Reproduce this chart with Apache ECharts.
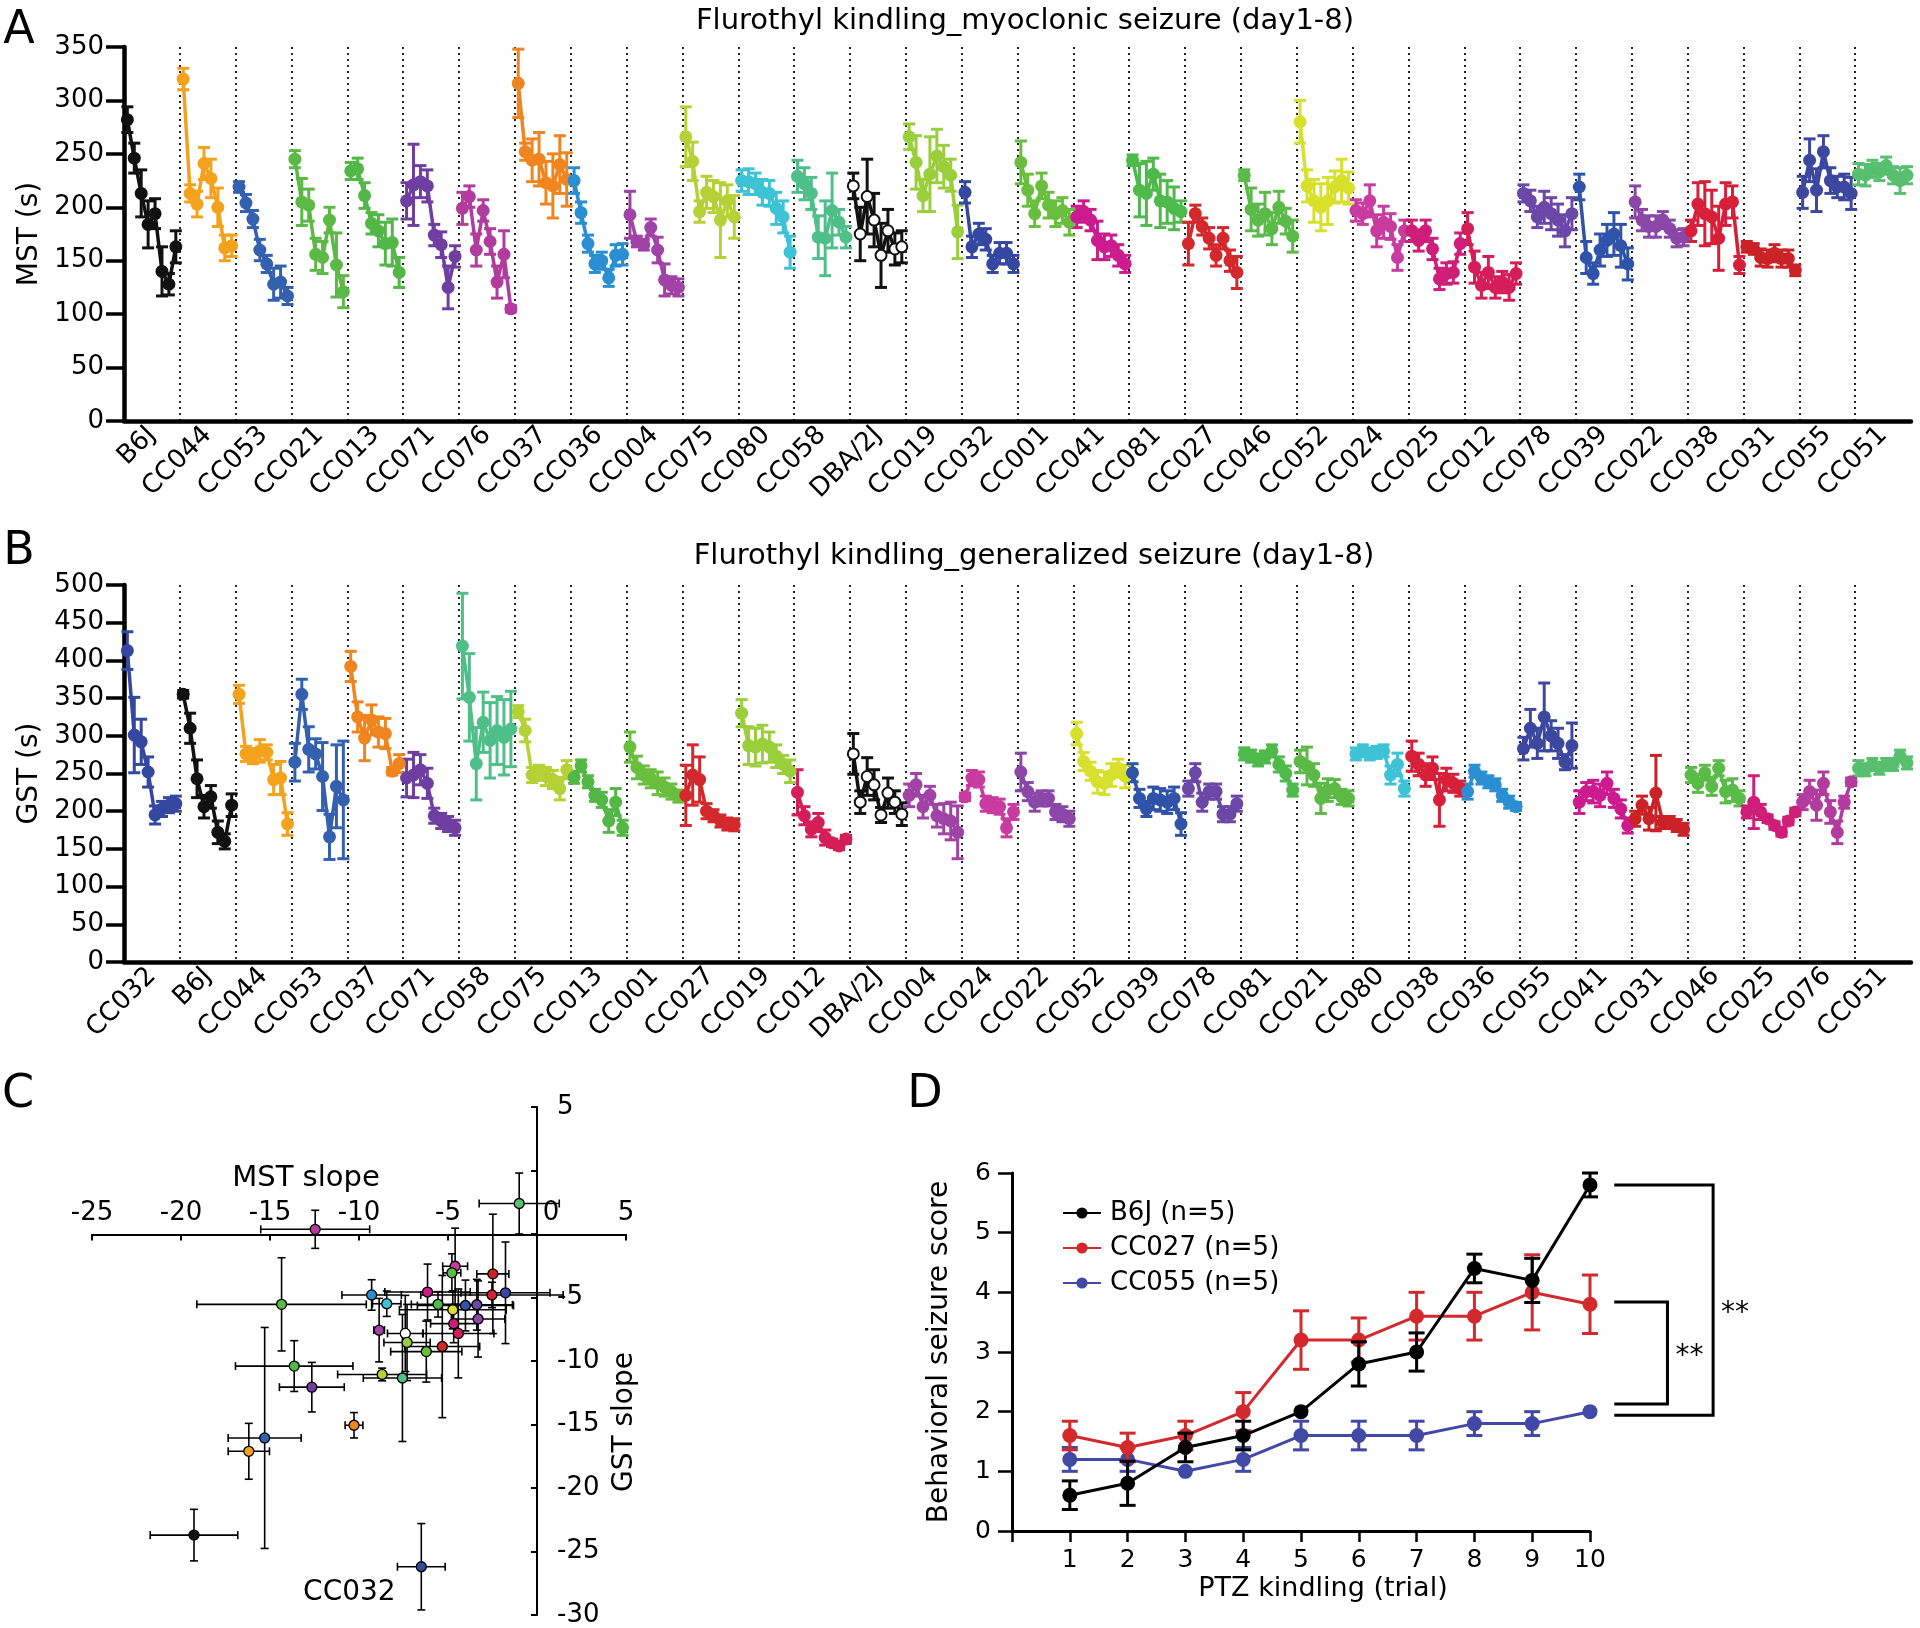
<!DOCTYPE html>
<html>
<head>
<meta charset="utf-8">
<script src="https://cdn.jsdelivr.net/npm/echarts@6/dist/echarts.min.js"></script>
<style>
  html, body { margin: 0; padding: 0; background: #fff; }
  #chart { width: 1920px; height: 1628px; }
</style>
</head>
<body>
<div id="chart"></div>
<script>
// ---- panel A: myoclonic seizure threshold, day 1-8 (mean / sem) ----
const strainsA = ['B6J', 'CC044', 'CC053', 'CC021', 'CC013', 'CC071', 'CC076', 'CC037', 'CC036', 'CC004',
  'CC075', 'CC080', 'CC058', 'DBA/2J', 'CC019', 'CC032', 'CC001', 'CC041', 'CC081', 'CC027', 'CC046',
  'CC052', 'CC024', 'CC025', 'CC012', 'CC078', 'CC039', 'CC022', 'CC038', 'CC031', 'CC055', 'CC051'];
const mstMean = [
  [282, 246, 213, 184, 194, 140, 128, 163], [320, 213, 203, 241, 227, 200, 162, 164],
  [219, 204, 189, 160, 147, 128, 130, 117], [245, 205, 202, 156, 153, 188, 146, 121],
  [234, 236, 211, 185, 178, 166, 167, 139], [206, 221, 224, 220, 174, 165, 125, 154],
  [199, 210, 160, 197, 168, 130, 156, 105], [316, 252, 244, 245, 223, 220, 240, 226],
  [225, 195, 166, 147, 150, 134, 155, 156], [193, 168, 165, 181, 160, 132, 127, 125],
  [266, 243, 196, 214, 210, 188, 206, 191], [225, 224, 222, 214, 213, 199, 191, 158],
  [229, 222, 213, 172, 171, 197, 186, 172], [220, 175, 210, 188, 155, 178, 161, 163],
  [266, 242, 211, 231, 248, 238, 230, 177], [214, 163, 175, 170, 147, 157, 157, 147],
  [242, 216, 194, 220, 202, 194, 197, 186], [191, 196, 188, 169, 163, 164, 155, 147],
  [244, 216, 213, 231, 206, 205, 199, 196], [166, 194, 182, 171, 155, 171, 150, 139],
  [230, 198, 188, 194, 180, 200, 187, 173], [280, 220, 206, 200, 206, 219, 225, 218],
  [197, 194, 206, 178, 186, 182, 153, 178], [178, 169, 178, 161, 133, 138, 139, 166],
  [180, 144, 127, 139, 125, 130, 125, 138], [213, 206, 191, 200, 194, 188, 178, 194],
  [219, 153, 138, 160, 169, 175, 164, 147], [205, 188, 182, 182, 188, 180, 171, 172],
  [178, 203, 194, 191, 171, 203, 205, 146], [163, 161, 153, 152, 157, 152, 152, 141],
  [214, 244, 216, 252, 225, 219, 219, 213], [231, 230, 236, 233, 239, 230, 225, 230]
];
const mstErr = [
  [12, 14, 22, 22, 14, 23, 10, 15], [10, 8, 12, 15, 18, 18, 12, 10],
  [5, 8, 8, 10, 8, 15, 15, 8], [8, 22, 15, 15, 15, 12, 30, 15],
  [8, 10, 12, 10, 15, 20, 22, 14], [17, 38, 15, 15, 10, 12, 20, 10],
  [15, 10, 15, 10, 12, 15, 22, 3], [32, 8, 20, 25, 20, 30, 27, 25],
  [12, 10, 8, 8, 8, 8, 10, 10], [22, 5, 5, 8, 12, 15, 8, 8],
  [28, 18, 10, 15, 15, 35, 15, 20], [10, 12, 10, 12, 12, 15, 15, 15],
  [15, 15, 15, 20, 35, 35, 12, 10], [12, 25, 35, 25, 30, 20, 15, 15],
  [12, 25, 15, 35, 25, 20, 15, 25], [10, 10, 10, 10, 8, 10, 10, 8],
  [20, 15, 12, 12, 12, 12, 12, 12], [10, 10, 10, 18, 12, 10, 10, 8],
  [5, 25, 30, 15, 25, 20, 20, 10], [20, 8, 8, 10, 10, 10, 10, 15],
  [5, 20, 15, 20, 15, 15, 12, 15], [20, 15, 20, 22, 22, 15, 20, 15],
  [10, 10, 15, 15, 15, 12, 12, 10], [10, 10, 10, 10, 10, 10, 10, 10],
  [15, 15, 12, 15, 10, 10, 12, 10], [8, 10, 10, 15, 15, 15, 15, 15],
  [12, 15, 10, 15, 15, 20, 20, 15], [15, 10, 10, 10, 8, 8, 8, 8],
  [10, 20, 30, 25, 30, 20, 15, 8], [5, 5, 8, 8, 8, 8, 8, 5],
  [15, 20, 20, 15, 12, 10, 12, 15], [10, 10, 8, 8, 8, 8, 12, 8]
];

// ---- panel B: generalized seizure threshold, day 1-8 ----
const strainsB = ['CC032', 'B6J', 'CC044', 'CC053', 'CC037', 'CC071', 'CC058', 'CC075', 'CC013', 'CC001',
  'CC027', 'CC019', 'CC012', 'DBA/2J', 'CC004', 'CC024', 'CC022', 'CC052', 'CC039', 'CC078', 'CC081',
  'CC021', 'CC080', 'CC038', 'CC036', 'CC055', 'CC041', 'CC031', 'CC046', 'CC025', 'CC076', 'CC051'];
const gstMean = [
  [413, 301, 292, 252, 195, 203, 208, 210], [355, 310, 243, 206, 219, 172, 160, 208],
  [355, 276, 273, 280, 278, 242, 244, 183], [265, 355, 282, 276, 246, 166, 233, 215],
  [392, 325, 297, 321, 305, 303, 253, 263], [244, 248, 255, 237, 194, 187, 183, 178],
  [419, 351, 263, 318, 294, 307, 298, 309], [332, 307, 248, 251, 246, 242, 230, 255],
  [245, 260, 239, 221, 215, 187, 212, 178], [285, 258, 248, 243, 237, 232, 226, 220],
  [221, 248, 242, 200, 194, 187, 183, 182], [330, 287, 285, 289, 285, 273, 262, 253],
  [225, 194, 176, 185, 165, 158, 154, 163], [276, 212, 246, 235, 195, 224, 212, 196],
  [221, 235, 206, 221, 194, 190, 187, 172], [219, 244, 242, 210, 208, 206, 178, 199],
  [252, 226, 212, 217, 217, 199, 196, 190], [303, 266, 253, 239, 237, 248, 257, 246],
  [251, 217, 203, 217, 215, 212, 217, 183], [230, 251, 212, 226, 226, 196, 196, 210],
  [276, 273, 268, 272, 280, 262, 250, 228], [266, 260, 248, 217, 228, 230, 219, 217],
  [276, 280, 276, 278, 280, 248, 262, 230], [273, 262, 248, 257, 215, 242, 237, 230],
  [226, 253, 244, 239, 235, 221, 212, 206], [283, 310, 290, 325, 300, 290, 265, 287],
  [212, 226, 226, 221, 237, 217, 203, 181], [190, 208, 190, 224, 185, 185, 181, 176],
  [248, 237, 251, 233, 257, 226, 228, 217], [199, 212, 199, 190, 181, 172, 187, 199],
  [212, 226, 208, 237, 199, 172, 212, 239], [257, 255, 262, 257, 262, 262, 273, 264]
];
const gstErr = [
  [25, 50, 30, 20, 12, 10, 10, 10], [5, 20, 25, 15, 15, 15, 10, 15],
  [12, 10, 10, 15, 10, 20, 22, 15], [25, 20, 30, 20, 45, 30, 55, 78],
  [20, 20, 30, 20, 20, 20, 5, 12], [25, 30, 20, 20, 10, 10, 10, 10],
  [70, 58, 48, 40, 50, 45, 50, 50], [8, 15, 10, 10, 12, 12, 15, 12],
  [8, 8, 8, 8, 10, 15, 18, 10], [20, 15, 12, 12, 15, 12, 10, 8],
  [40, 40, 30, 10, 8, 8, 8, 8], [18, 25, 25, 25, 20, 15, 12, 15],
  [30, 12, 10, 12, 10, 5, 5, 5], [27, 15, 25, 20, 10, 20, 15, 15],
  [15, 15, 15, 12, 15, 20, 25, 35], [5, 10, 10, 10, 10, 10, 12, 10],
  [25, 12, 12, 10, 10, 10, 10, 10], [15, 12, 12, 15, 15, 15, 12, 15],
  [12, 12, 10, 15, 15, 15, 15, 15], [10, 12, 12, 10, 10, 10, 10, 10],
  [8, 8, 8, 8, 8, 10, 10, 8], [15, 25, 15, 20, 15, 12, 10, 10],
  [8, 8, 8, 8, 8, 12, 15, 10], [20, 15, 15, 15, 35, 15, 12, 10],
  [10, 8, 8, 8, 8, 8, 8, 5], [15, 25, 20, 45, 20, 20, 10, 30],
  [15, 12, 15, 15, 15, 12, 12, 10], [10, 12, 15, 50, 8, 8, 8, 8],
  [10, 12, 10, 12, 10, 15, 15, 10], [8, 35, 10, 5, 5, 5, 5, 5],
  [10, 15, 20, 15, 15, 15, 8, 5], [10, 8, 8, 8, 8, 8, 8, 8]
];

// ---- panel C: slopes (MST vs GST) ----
const slopeStrains = ['CC051', 'CC076', 'CC021', 'CC036', 'CC080', 'CC041', 'CC024', 'CC046', 'CC031', 'CC038',
  'CC055', 'CC081', 'CC039', 'CC078', 'CC052', 'CC022', 'CC025', 'CC012', 'DBA/2J', 'CC004', 'CC019',
  'CC001', 'CC027', 'CC013', 'CC071', 'CC075', 'CC058', 'CC037', 'CC053', 'CC044', 'B6J', 'CC032'];
const mstSlope = [-1.0, -12.46, -14.35, -9.29, -8.44, -6.15, -4.6, -4.78, -2.48, -2.53, -1.77, -5.56, -4.02,
  -3.38, -4.73, -3.31, -4.68, -4.42, -7.4, -8.87, -7.3, -6.22, -5.32, -13.64, -12.65, -8.7, -7.56, -10.28,
  -15.3, -16.19, -19.27, -6.5];
const mstSlopeErr = [2.25, 3.06, 4.76, 1.67, 0.8, 2.4, 0.7, 0.5, 0.9, 4.0, 2.5, 1.5, 2.7, 2.0, 3.0, 1.5, 1.3,
  2.0, 1.0, 0.3, 1.3, 2.0, 2.1, 3.3, 1.82, 2.5, 2.2, 0.5, 2.05, 1.16, 2.46, 1.34];
const gstSlope = [2.4, 0.37, -5.54, -4.8, -5.49, -4.57, -2.54, -3.06, -3.14, -4.8, -4.63, -5.54, -5.63, -5.57,
  -5.97, -6.69, -7.06, -7.83, -7.83, -7.57, -8.54, -9.26, -8.86, -10.4, -12.06, -11.06, -11.34, -15.06,
  -16.06, -17.11, -23.71, -26.2];
const gstSlopeErr = [2.4, 1.5, 3.67, 1.2, 1.0, 2.2, 3.0, 1.5, 4.7, 1.0, 4.0, 1.0, 2.0, 2.0, 1.5, 3.0, 1.5,
  3.5, 3.0, 2.5, 3.0, 2.4, 5.6, 2.0, 1.95, 0.5, 5.0, 1.0, 8.7, 2.2, 2.03, 3.4];
const cXRange = [-25, 5];
const cYRange = [-30, 10];
const cYTickText = { 10: '5', 5: '', 0: '' };   // labels printed on the C y axis

// ---- panel D: PTZ kindling ----
const trials = [1, 2, 3, 4, 5, 6, 7, 8, 9, 10];
const b6jScore = [0.6, 0.8, 1.4, 1.6, 2.0, 2.8, 3.0, 4.4, 4.2, 5.8];
const b6jSem = [0.24, 0.37, 0.24, 0.24, 0, 0.37, 0.32, 0.24, 0.37, 0.2];
const cc027Score = [1.6, 1.4, 1.6, 2.0, 3.2, 3.2, 3.6, 3.6, 4.0, 3.8];
const cc027Sem = [0.24, 0.24, 0.24, 0.32, 0.49, 0.37, 0.4, 0.4, 0.63, 0.49];
const cc055Score = [1.2, 1.2, 1.0, 1.2, 1.6, 1.6, 1.6, 1.8, 1.8, 2.0];
const cc055Sem = [0.2, 0.2, 0, 0.2, 0.24, 0.24, 0.24, 0.2, 0.2, 0];
// significance brackets: upper end, lower end
const sigBrackets = [[3.84, 2.13, '**'], [5.8, 1.94, '**']];

const strainColors = {
  'B6J': '#111111', 'CC044': '#f4a21c', 'CC053': '#3460b0', 'CC021': '#5cb946', 'CC013': '#52b747',
  'CC071': '#6e3fa0', 'CC076': '#b23c9e', 'CC037': '#f0851f', 'CC036': '#2a8fd2', 'CC004': '#a042a6',
  'CC075': '#b4d235', 'CC080': '#3dc2d6', 'CC058': '#4fbf8a', 'DBA/2J': '#111111', 'CC019': '#9bce3b',
  'CC032': '#3447a1', 'CC001': '#6abe3e', 'CC041': '#cc1b8e', 'CC081': '#4dba4b', 'CC027': '#d3282c',
  'CC046': '#5bbb49', 'CC052': '#d7e02b', 'CC024': '#c83b9f', 'CC025': '#cf1e78', 'CC012': '#d51e58',
  'CC078': '#6b47a8', 'CC039': '#2f53a9', 'CC022': '#8a47a8', 'CC038': '#d81f3a', 'CC031': '#ca2226',
  'CC055': '#3c48a0', 'CC051': '#58bf6e'
};
const FONT = 'DejaVu Sans';
const gridC = { left: 92, top: 1107, width: 534, height: 510 };

// position of day d inside a strain slot
const dayPos = (i, d) => i + 0.06 + d * 0.124;

function errBar(cap, width, colorOf) {
  return function (params, api) {
    const x = api.value(0), y = api.value(1), e = api.value(2);
    if (!e) return null;
    const hi = api.coord([x, y + e]), lo = api.coord([x, y - e]);
    const c = colorOf(api.value(3));
    const st = () => ({ stroke: c, lineWidth: width });
    return { type: 'group', children: [
      { type: 'line', shape: { x1: hi[0], y1: hi[1], x2: lo[0], y2: lo[1] }, style: st() },
      { type: 'line', shape: { x1: hi[0] - cap, y1: hi[1], x2: hi[0] + cap, y2: hi[1] }, style: st() },
      { type: 'line', shape: { x1: lo[0] - cap, y1: lo[1], x2: lo[0] + cap, y2: lo[1] }, style: st() }
    ] };
  };
}

function stripSeries(strains, means, errs, xi, yi, tag) {
  const out = [];
  const errData = [];
  strains.forEach((s, i) => {
    const col = strainColors[s];
    const open = s === 'DBA/2J';
    out.push({
      type: 'line', name: tag + s, xAxisIndex: xi, yAxisIndex: yi, z: 4,
      data: means[i].map((v, d) => [dayPos(i, d), v]),
      symbol: open ? 'emptyCircle' : 'circle', symbolSize: open ? 11 : 13,
      lineStyle: { color: col, width: 3.5 },
      itemStyle: open ? { color: col, borderColor: col, borderWidth: 3 } : { color: col }
    });
    means[i].forEach((v, d) => errData.push([dayPos(i, d), v, errs[i][d], i]));
  });
  out.push({
    type: 'custom', name: tag + 'err', xAxisIndex: xi, yAxisIndex: yi, z: 3,
    data: errData, encode: { x: 0, y: 1 },
    renderItem: errBar(6, 3, k => strainColors[strains[k]])
  });
  return out;
}

const thickAxis = { lineStyle: { color: '#000', width: 4.5 } };
const labelStyle = { color: '#000', fontFamily: FONT };

function stripAxes(grid, strains) {
  return [
    {
      type: 'value', gridIndex: grid, min: 0, max: 32, interval: 1, position: 'bottom',
      axisLine: thickAxis, axisTick: { show: false }, axisLabel: { show: false },
      splitLine: { show: true, showMinLine: false, showMaxLine: false,
        lineStyle: { color: '#222', width: 2, type: [2, 4] } }
    },
    {
      type: 'category', gridIndex: grid, position: 'bottom', data: strains, boundaryGap: true,
      axisLine: { show: false }, axisTick: { show: false }, splitLine: { show: false },
      axisLabel: Object.assign({ rotate: 45, interval: 0, fontSize: 26, margin: 10 }, labelStyle)
    }
  ];
}

function stripY(grid, max, name) {
  return {
    type: 'value', gridIndex: grid, min: 0, max: max, interval: 50,
    name: name, nameLocation: 'middle', nameGap: 74,
    nameTextStyle: { fontSize: 28, color: '#000', fontFamily: FONT },
    axisLine: Object.assign({ show: true }, thickAxis),
    axisTick: { show: true, length: 18, lineStyle: { color: '#000', width: 3.5 } },
    axisLabel: Object.assign({ fontSize: 26, margin: 20 }, labelStyle),
    splitLine: { show: false }
  };
}

// panel C
const scatterData = slopeStrains.map((s, i) => {
  const item = {
    value: [mstSlope[i], gstSlope[i]],
    itemStyle: { color: s === 'DBA/2J' ? '#fff' : strainColors[s] }
  };
  if (s === 'CC032') {
    item.label = { show: true, formatter: 'CC032', position: 'left', distance: 20, offset: [0, 26],
      fontSize: 28, color: '#000', fontFamily: FONT };
  }
  return item;
});
const scatterErr = slopeStrains.map((s, i) => [mstSlope[i], gstSlope[i], mstSlopeErr[i], gstSlopeErr[i]]);

// panel D
const dSeries = [
  { name: 'CC055 (n=5)', color: '#4148a6', score: cc055Score, sem: cc055Sem },
  { name: 'CC027 (n=5)', color: '#d3282c', score: cc027Score, sem: cc027Sem },
  { name: 'B6J (n=5)', color: '#000000', score: b6jScore, sem: b6jSem }
];

const series = []
  .concat(stripSeries(strainsA, mstMean, mstErr, 0, 0, 'A-'))
  .concat(stripSeries(strainsB, gstMean, gstErr, 2, 1, 'B-'));

series.push({
  type: 'custom', name: 'C-err', xAxisIndex: 4, yAxisIndex: 2, z: 3,
  data: scatterErr, encode: { x: 0, y: 1 },
  renderItem: function (params, api) {
    const x = api.value(0), y = api.value(1), ex = api.value(2), ey = api.value(3);
    const l = api.coord([x - ex, y]), r = api.coord([x + ex, y]);
    const t = api.coord([x, y + ey]), b = api.coord([x, y - ey]);
    const cap = 4;
    const st = () => ({ stroke: '#000', lineWidth: 1.6 });
    return { type: 'group', children: [
      { type: 'line', shape: { x1: l[0], y1: l[1], x2: r[0], y2: r[1] }, style: st() },
      { type: 'line', shape: { x1: l[0], y1: l[1] - cap, x2: l[0], y2: l[1] + cap }, style: st() },
      { type: 'line', shape: { x1: r[0], y1: r[1] - cap, x2: r[0], y2: r[1] + cap }, style: st() },
      { type: 'line', shape: { x1: t[0], y1: t[1], x2: b[0], y2: b[1] }, style: st() },
      { type: 'line', shape: { x1: t[0] - cap, y1: t[1], x2: t[0] + cap, y2: t[1] }, style: st() },
      { type: 'line', shape: { x1: b[0] - cap, y1: b[1], x2: b[0] + cap, y2: b[1] }, style: st() }
    ] };
  }
});
series.push({
  type: 'scatter', name: 'C-pts', xAxisIndex: 4, yAxisIndex: 2, z: 4,
  symbol: 'circle', symbolSize: 10, data: scatterData,
  itemStyle: { borderColor: '#000', borderWidth: 1.3, opacity: 1 }
});

dSeries.forEach((ds, k) => {
  series.push({
    type: 'custom', name: 'D-err-' + k, xAxisIndex: 5, yAxisIndex: 3, z: 3 + k * 2,
    data: trials.map((t, i) => [t, ds.score[i], ds.sem[i], k]), encode: { x: 0, y: 1 },
    renderItem: errBar(8, 3, () => ds.color)
  });
  series.push({
    type: 'line', name: ds.name, xAxisIndex: 5, yAxisIndex: 3, z: 4 + k * 2,
    data: trials.map((t, i) => [t, ds.score[i]]),
    symbol: 'circle', symbolSize: 15,
    lineStyle: { color: ds.color, width: 3 }, itemStyle: { color: ds.color }
  });
});

series.push({
  type: 'custom', name: 'D-sig', xAxisIndex: 5, yAxisIndex: 3, z: 10,
  data: sigBrackets.map((b, i) => [10, b[0], b[1], i]), encode: { x: 0, y: 1 },
  renderItem: function (params, api) {
    const k = api.value(3);
    const reach = k === 0 ? 0.92 : 1.71;
    const a = api.coord([10.42, api.value(1)]);
    const b = api.coord([10.42, api.value(2)]);
    const v = api.coord([10.42 + reach, 0])[0];
    const st = () => ({ stroke: '#000', lineWidth: 3, fill: null });
    return { type: 'group', children: [
      { type: 'polyline', shape: { points: [[a[0], a[1]], [v, a[1]], [v, b[1]], [b[0], b[1]]] }, style: st() },
      { type: 'text', x: v + 8, y: (a[1] + b[1]) / 2 + (k === 0 ? 4 : 14),
        style: { text: sigBrackets[k][2], fontSize: 28, fontFamily: FONT, fill: '#000',
          align: 'left', verticalAlign: 'middle', textAlign: 'left', textVerticalAlign: 'middle' } }
    ] };
  }
});

function gtext(x, y, text, size) {
  return { type: 'text', x: x, y: y, z: 20,
    style: { text: text, fontSize: size, fontFamily: FONT, fill: '#000',
      align: 'center', verticalAlign: 'middle', textAlign: 'center', textVerticalAlign: 'middle' } };
}

const option = {
  animation: false,
  backgroundColor: '#fff',
  textStyle: { fontFamily: FONT, color: '#000' },
  graphic: [
    gtext(19, 31, 'A', 46), gtext(19, 552, 'B', 46), gtext(18, 1095, 'C', 46), gtext(925, 1095, 'D', 46),
    gtext(1025, 21, 'Flurothyl kindling_myoclonic seizure (day1-8)', 29),
    gtext(1034, 556, 'Flurothyl kindling_generalized seizure (day1-8)', 29)
  ],
  legend: {
    data: ['B6J (n=5)', 'CC027 (n=5)', 'CC055 (n=5)'],
    orient: 'vertical', left: 1057, top: 1195, itemWidth: 38, itemHeight: 14, itemGap: 9,
    textStyle: { fontSize: 26, fontFamily: FONT, color: '#000', padding: [0, 0, 0, 4] }
  },
  grid: [
    { left: 124, top: 47, width: 1787, height: 374 },
    { left: 124, top: 585, width: 1787, height: 377 },
    gridC,
    { left: 1012, top: 1173, width: 578, height: 358 }
  ],
  xAxis: [].concat(stripAxes(0, strainsA), stripAxes(1, strainsB), [
    {
      type: 'value', gridIndex: 2, min: cXRange[0], max: cXRange[1], interval: 5, position: 'top',
      // axis drawn at GST slope = 0
      offset: -gridC.height * cYRange[1] / (cYRange[1] - cYRange[0]),
      name: 'MST slope', nameLocation: 'middle', nameGap: 42,
      nameTextStyle: { fontSize: 29, color: '#000', fontFamily: FONT, padding: [0, 106, 0, 0] },
      axisLine: { onZero: false, lineStyle: { color: '#000', width: 2 } },
      axisTick: { show: true, inside: true, length: 6, lineStyle: { color: '#000', width: 2 } },
      axisLabel: Object.assign({ fontSize: 26, margin: 8,
        formatter: v => (v === 0 ? '{z|0}' : String(v)),
        rich: { z: { fontSize: 26, fontFamily: FONT, color: '#000', padding: [0, 0, 0, 28] } } }, labelStyle),
      splitLine: { show: false }
    },
    {
      type: 'value', gridIndex: 3, min: 0, max: 10, interval: 1,
      name: 'PTZ kindling (trial)', nameLocation: 'middle', nameGap: 44,
      nameTextStyle: { fontSize: 27, color: '#000', fontFamily: FONT, padding: [0, 0, 0, 44] },
      axisLine: { lineStyle: { color: '#000', width: 3 } },
      axisTick: { show: true, length: 11, lineStyle: { color: '#000', width: 2.5 } },
      axisLabel: Object.assign({ fontSize: 25, margin: 17, formatter: v => (v === 0 ? '' : String(v)) }, labelStyle),
      splitLine: { show: false }
    }
  ]),
  yAxis: [
    stripY(0, 350, 'MST (s)'),
    stripY(1, 500, 'GST (s)'),
    {
      type: 'value', gridIndex: 2, min: cYRange[0], max: cYRange[1], interval: 5, position: 'right',
      // axis drawn at MST slope = 0
      offset: -gridC.width * cXRange[1] / (cXRange[1] - cXRange[0]),
      name: 'GST slope', nameLocation: 'middle', nameRotate: 90, nameGap: 74,
      nameTextStyle: { fontSize: 28, color: '#000', fontFamily: FONT, padding: [0, 122, 0, 0] },
      axisLine: { show: true, onZero: false, lineStyle: { color: '#000', width: 2 } },
      axisTick: { show: true, inside: true, length: 6, lineStyle: { color: '#000', width: 2 } },
      axisLabel: Object.assign({ fontSize: 26, margin: 20,
        formatter: v => (v in cYTickText ? cYTickText[v] : String(v)) }, labelStyle),
      splitLine: { show: false }
    },
    {
      type: 'value', gridIndex: 3, min: 0, max: 6, interval: 1,
      name: 'Behavioral seizure score', nameLocation: 'middle', nameGap: 58,
      nameTextStyle: { fontSize: 28, color: '#000', fontFamily: FONT },
      axisLine: { show: true, lineStyle: { color: '#000', width: 3 } },
      axisTick: { show: true, length: 14, lineStyle: { color: '#000', width: 2.5 } },
      axisLabel: Object.assign({ fontSize: 25, margin: 21 }, labelStyle),
      splitLine: { show: false }
    }
  ],
  series: series
};

const chart = echarts.init(document.getElementById('chart'));
chart.setOption(option);
</script>
</body>
</html>
